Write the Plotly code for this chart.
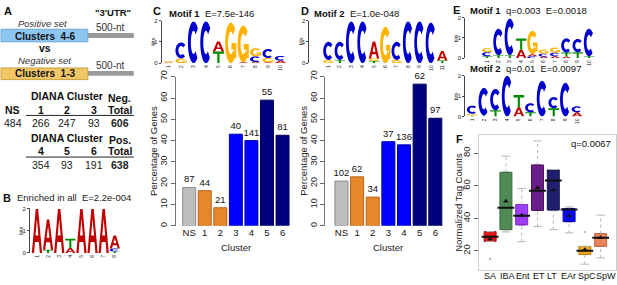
import numpy as np
import plotly.graph_objects as go

W, H = 617, 285
FONT = "Liberation Sans"

# ---- data -------------------------------------------------------------
clusters = ["NS", "1", "2", "3", "4", "5", "6"]
pct_motif1 = [18, 16.5, 8.5, 43, 40, 59, 42.5]
n_motif1 = [87, 44, 21, 40, 141, 55, 81]
pct_motif2 = [21, 23, 13.5, 39.5, 38, 66.5, 50.5]
n_motif2 = [102, 62, 34, 37, 136, 62, 97]
bar_colors = ["#BEBEBE", "#E8862A", "#E8862A", "#0000FF", "#0000FF", "#00007F", "#00007F"]
bar_edges = ["#8C8C8C", "#B8651C", "#B8651C", "#0000B0", "#0000B0", "#000050", "#000050"]

neg_cols = ["NS", "1", "2", "3", "Total"]
neg_vals = ["484", "266", "247", "93", "606"]
pos_cols = ["4", "5", "6", "Total"]
pos_vals = ["354", "93", "191", "638"]

# sequence logos: per position, letters stacked bottom -> top with heights in bits
logo_b = [[("A", 1.97)], [("T", 0.14), ("A", 1.36)], [("A", 1.97)],
          [("A", 0.22), ("T", 0.42)], [("A", 1.97)], [("A", 1.97)], [("A", 1.97)],
          [("T", 0.07), ("C", 0.13), ("A", 0.58)]]
logo_c = [[("A", 0.03), ("G", 0.06)], [("G", 0.22), ("C", 0.75)], [("C", 1.95)],
          [("C", 1.95)], [("T", 0.55), ("A", 0.47)], [("G", 1.9)],
          [("A", 0.04), ("G", 1.72)], [("A", 0.05), ("C", 0.27), ("G", 0.38)],
          [("A", 0.04), ("G", 0.2), ("C", 0.42)], [("A", 0.12), ("C", 0.22)]]
logo_d = [[("G", 0.15), ("C", 0.85)], [("T", 0.15), ("C", 0.85)], [("C", 1.95)],
          [("C", 1.95)], [("T", 0.1), ("G", 0.12), ("A", 0.8)], [("G", 1.7)],
          [("G", 0.15), ("C", 0.85)], [("C", 1.95)], [("C", 1.95)], [("C", 1.9)],
          [("T", 0.12), ("A", 0.45)]]
logo_e1 = [[("T", 0.1), ("C", 0.2), ("G", 0.2)], [("T", 0.15), ("C", 1.3)],
           [("T", 0.15), ("C", 1.8)], [("A", 0.42), ("T", 0.55)],
           [("C", 0.1), ("A", 0.1), ("G", 1.15)], [("A", 0.08), ("C", 0.15), ("G", 0.2)],
           [("A", 0.1), ("C", 0.18), ("G", 0.25)], [("A", 0.08), ("T", 0.2), ("C", 0.7)],
           [("T", 0.3), ("C", 0.65)], [("T", 0.1), ("C", 1.35)]]
logo_e2 = [[("T", 0.05), ("G", 0.08), ("C", 0.4)], [("T", 0.05), ("C", 1.35)],
           [("T", 0.3), ("C", 1.05)], [("C", 2.0)], [("A", 0.45), ("T", 0.6)],
           [("T", 0.2), ("C", 0.45)], [("C", 1.75)], [("T", 0.4), ("C", 0.55)],
           [("C", 1.65)], [("A", 0.2), ("C", 0.3)]]

groups = ["SA", "IBA", "Ent", "ET", "LT", "EAr", "SpC", "SpW"]
box_q1 = [25.9, 33.1, 36.0, 44.9, 45.1, 38.0, 17.8, 22.8]
box_med = [28.7, 46.5, 41.6, 57.0, 63.3, 45.5, 20.2, 28.1]
box_q3 = [31.9, 68.3, 48.5, 72.8, 69.7, 46.1, 22.8, 30.7]
box_lo = [25.9, 31.7, 25.7, 35.0, 33.1, 31.1, 11.9, 15.8]
box_hi = [31.9, 78.2, 58.4, 87.5, 70.0, 47.1, 22.8, 42.0]
box_mean = [27.3, 50.5, 42.0, 58.8, 57.4, 41.6, 20.8, 28.1]
out_x = [0, 6]  # SA, SpC
out_y = [15.3, 31.7]
box_colors = ["#E0161B", "#4F8A55", "#9D3DF5", "#6A1E8A", "#1F1F6E", "#0A0AEE", "#EAA620", "#E8845A"]
box_edges = ["#B01015", "#3A6B40", "#7B2CC8", "#4E1566", "#141450", "#0606B0", "#B8821A", "#B86848"]

LETTER_COLORS = {"A": "#C00000", "C": "#0000CC", "G": "#FFB300", "T": "#008A00"}


# ---- helpers ----------------------------------------------------------
def X(px):
    return px / W


def Y(py):
    return 1 - py / H


def ring(a0, a1, step=10):
    angs = np.radians(np.arange(a0, a1 + 0.1, step))
    outer = [(0.5 + 0.5 * np.cos(a), 0.5 + 0.5 * np.sin(a)) for a in angs]
    inner = [(0.5 + 0.24 * np.cos(a), 0.5 + 0.28 * np.sin(a)) for a in angs[::-1]]
    return outer + inner


GLYPHS = {
    "A": [[(0, 0), (0.22, 0), (0.31, 0.25), (0.69, 0.25), (0.78, 0), (1, 0), (0.62, 1), (0.38, 1)],
          [(0.36, 0.4), (0.5, 0.78), (0.64, 0.4)]],
    "T": [[(0.4, 0), (0.6, 0), (0.6, 0.8), (1, 0.8), (1, 1), (0, 1), (0, 0.8), (0.4, 0.8)]],
    "C": [ring(42, 318)],
    "G": [ring(42, 330),
          [(0.55, 0.34), (0.8, 0.34), (0.8, 0.12), (0.98, 0.12), (0.98, 0.5), (0.55, 0.5)]],
}


def glyph_path(letter, xc, y0, h, w=0.92):
    parts = []
    for poly in GLYPHS[letter]:
        pts = [f"{xc + (u - 0.5) * w:.4f},{y0 + v * h:.4f}" for u, v in poly]
        parts.append("M" + " L".join(pts) + " Z")
    return " ".join(parts)


def axname(ax, n):
    return ax if n == 1 else f"{ax}{n}"


layout_axes = {}
shapes = []
annotations = []


def ann(text, x, y, size=10, anchor="center", angle=0, color="#111111"):
    annotations.append(dict(text=text, x=X(x), y=Y(y), xref="paper", yref="paper",
                            showarrow=False, xanchor=anchor, yanchor="middle", textangle=angle,
                            font=dict(size=size, color=color, family=FONT)))


def add_logo(n, logo, left_px, first_px, last_px, y0_px, y2_px):
    npos = len(logo)
    step = (last_px - first_px) / (npos - 1)
    right_px = last_px + step / 2
    layout_axes[axname("xaxis", n)] = dict(
        domain=[X(left_px), X(right_px)], range=[1 - (first_px - left_px) / step, npos + 0.5],
        anchor=axname("y", n), tickvals=list(range(1, npos + 1)),
        ticktext=[str(i) for i in range(1, npos + 1)], tickangle=-90,
        tickfont=dict(size=5, color="#222"), showgrid=False, zeroline=False, showline=False, ticks="")
    layout_axes[axname("yaxis", n)] = dict(
        domain=[Y(y0_px), Y(y2_px)], range=[0, 2], tickvals=[0, 1, 2], ticks="outside", ticklen=2,
        tickfont=dict(size=6, color="#222"), showline=True, linecolor="#444", linewidth=1,
        showgrid=False, zeroline=False, anchor=axname("x", n))
    ann("bits", left_px - 9, (y0_px + y2_px) / 2, size=5, angle=-90)
    for i, stack in enumerate(logo, start=1):
        base = 0.0
        for letter, h in stack:
            shapes.append(dict(type="path", path=glyph_path(letter, i, base, h),
                               xref=axname("x", n), yref=axname("y", n),
                               fillcolor=LETTER_COLORS[letter], line=dict(width=0),
                               fillrule="nonzero", layer="above"))
            base += h


def add_bars(fig, n, vals, labels, axis_px, first_px, last_px, y0_px, y70_px):
    step = (last_px - first_px) / 6
    right_px = last_px + step * 0.6
    fig.add_trace(go.Bar(
        x=list(range(7)), y=vals, text=[str(v) for v in labels], textposition="outside",
        textfont=dict(size=9.5, color="#111", family=FONT), constraintext="none", cliponaxis=False,
        marker=dict(color=bar_colors, line=dict(color=bar_edges, width=1)),
        xaxis=axname("x", n), yaxis=axname("y", n)))
    layout_axes[axname("xaxis", n)] = dict(
        domain=[X(axis_px), X(right_px)], range=[-(first_px - axis_px) / step, 6 + 0.6],
        anchor=axname("y", n), tickvals=list(range(7)), ticktext=clusters,
        tickfont=dict(size=9.5, color="#111"), showgrid=False, zeroline=False, showline=False, ticks="")
    layout_axes[axname("yaxis", n)] = dict(
        domain=[Y(y0_px), Y(y70_px)], range=[0, 70], tickvals=list(range(0, 71, 10)),
        tickangle=-90, ticks="outside", ticklen=4, tickcolor="#666",
        tickfont=dict(size=9, color="#222"), showline=True, linecolor="#777", linewidth=1,
        showgrid=False, zeroline=False, anchor=axname("x", n))
    ann("Percentage of Genes", axis_px - 22, (y0_px + y70_px) / 2, size=9.5, angle=-90, color="#222")
    ann("Cluster", (first_px + last_px) / 2, y0_px + 22, size=9.5, color="#222")


def build_plot():
    fig = go.Figure()

    # ---- panel A ----
    ann("<b>A</b>", 2, 5, size=11, anchor="left")
    ann("<b>\"3'UTR\"</b>", 113, 7, size=9.5)
    ann("<i>Positive set</i>", 16, 18, size=9.5, anchor="left", color="#333")
    shapes.append(dict(type="rect", xref="paper", yref="paper", x0=X(1), x1=X(88), y0=Y(37), y1=Y(24),
                       fillcolor="#8EC6F2", line=dict(color="#6FA8D8", width=1)))
    shapes.append(dict(type="rect", xref="paper", yref="paper", x0=X(88), x1=X(134), y0=Y(33), y1=Y(28),
                       fillcolor="#9A9A9A", line=dict(width=0)))
    ann("<b>Clusters  4-6</b>", 45, 31, size=10)
    ann("500-nt", 111, 22, size=10, color="#333")
    ann("<b>vs</b>", 45, 43, size=10.5)
    ann("<i>Negative set</i>", 16, 56, size=9.5, anchor="left", color="#333")
    shapes.append(dict(type="rect", xref="paper", yref="paper", x0=X(1), x1=X(88), y0=Y(76), y1=Y(64),
                       fillcolor="#F1C766", line=dict(color="#C9A040", width=1)))
    shapes.append(dict(type="rect", xref="paper", yref="paper", x0=X(88), x1=X(134), y0=Y(72), y1=Y(67),
                       fillcolor="#9A9A9A", line=dict(width=0)))
    ann("<b>Clusters  1-3</b>", 45, 70, size=10)
    ann("500-nt", 111, 61, size=10, color="#333")

    neg_x = [13, 41, 67, 94, 120]
    ann("<b>DIANA Cluster</b>", 67, 93, size=10.5)
    ann("<b>Neg.</b>", 120, 95, size=10.5)
    for xx, c in zip(neg_x, neg_cols):
        ann(f"<b>{c}</b>", xx, 107, size=10.5)
    shapes.append(dict(type="line", xref="paper", yref="paper", x0=X(26), x1=X(134), y0=Y(113), y1=Y(113),
                       line=dict(color="#222", width=1)))
    for xx, v in zip(neg_x, neg_vals):
        ann(f"<b>{v}</b>" if v == neg_vals[-1] else v, xx, 121, size=10.5, color="#222")
    pos_x = [41, 67, 94, 120]
    ann("<b>DIANA Cluster</b>", 67, 136, size=10.5)
    ann("<b>Pos.</b>", 120, 138, size=10.5)
    for xx, c in zip(pos_x, pos_cols):
        ann(f"<b>{c}</b>", xx, 150, size=10.5)
    shapes.append(dict(type="line", xref="paper", yref="paper", x0=X(26), x1=X(134), y0=Y(156), y1=Y(156),
                       line=dict(color="#222", width=1)))
    for xx, v in zip(pos_x, pos_vals):
        ann(f"<b>{v}</b>" if v == pos_vals[-1] else v, xx, 164, size=10.5, color="#222")

    # ---- panel B ----
    ann("<b>B</b>", 1, 198, size=11, anchor="left")
    ann("Enriched in all  E=2.2e-004", 15, 198, size=9.5, anchor="left", color="#222")
    add_logo(1, logo_b, 30, 37, 115, 255, 209)

    # ---- panel C ----
    ann("<b>C</b>", 151, 5, size=11, anchor="left")
    ann("<b>Motif 1</b>  E=7.5e-146", 167, 8, size=9.5, anchor="left")
    add_logo(2, logo_c, 162, 169, 281, 59, 15)
    add_bars(fig, 3, pct_motif1, n_motif1, 176, 189.5, 283, 227, 73)

    # ---- panel D ----
    ann("<b>D</b>", 299, 5, size=11, anchor="left")
    ann("<b>Motif 2</b>  E=1.0e-048", 313, 8, size=9.5, anchor="left")
    add_logo(4, logo_d, 310, 329, 443, 59, 15)
    add_bars(fig, 5, pct_motif2, n_motif2, 326, 342, 436, 227, 73)

    # ---- panel E ----
    ann("<b>E</b>", 452, 4, size=11, anchor="left")
    ann("<b>Motif 1</b>  q=0.003  E=0.0018", 469, 5, size=9.5, anchor="left")
    add_logo(6, logo_e1, 466, 488, 590, 54, 12)
    ann("<b>Motif 2</b>  q=0.01  E=0.0097", 469, 65, size=9.5, anchor="left")
    add_logo(7, logo_e2, 466, 473, 578, 114, 72)

    # ---- panel F ----
    ann("<b>F</b>", 455, 137, size=11, anchor="left")
    pos = list(range(len(groups)))
    for p, c, e, a, m, b in zip(pos, box_colors, box_edges, box_q1, box_med, box_q3):
        fig.add_trace(go.Box(x=[p], q1=[a], median=[m], q3=[b], lowerfence=[a], upperfence=[b],
                             fillcolor=c, line=dict(color=e, width=1), width=0.76,
                             boxpoints=False, xaxis="x8", yaxis="y8"))
    wx, wy = [], []
    for p, a, b, lo, hi in zip(pos, box_q1, box_q3, box_lo, box_hi):
        wx += [p, p, None, p, p, None]
        wy += [b, hi, None, lo, a, None]
    fig.add_trace(go.Scatter(x=wx, y=wy, mode="lines", xaxis="x8", yaxis="y8",
                             line=dict(color="#B5B5B5", width=1, dash="dot")))
    fig.add_trace(go.Scatter(x=pos + pos, y=box_lo + box_hi, mode="markers", xaxis="x8", yaxis="y8",
                             marker=dict(symbol="line-ew", size=6, line=dict(color="#B5B5B5", width=1))))
    fig.add_trace(go.Scatter(x=pos, y=box_med, mode="markers", xaxis="x8", yaxis="y8",
                             marker=dict(symbol="line-ew", size=12, line=dict(color="#111", width=2))))
    fig.add_trace(go.Scatter(x=pos, y=box_mean, mode="markers", xaxis="x8", yaxis="y8",
                             marker=dict(symbol="triangle-up", size=5, color="#111")))
    fig.add_trace(go.Scatter(x=out_x, y=out_y, mode="markers", xaxis="x8", yaxis="y8",
                             marker=dict(symbol="circle", size=2.5, color="#BBBBBB")))
    layout_axes["xaxis8"] = dict(domain=[X(480), X(616.5)], range=[-0.69, 7.94], anchor="y8",
                                 showticklabels=False, showline=True, mirror=True,
                                 linecolor="#CFCFCF", linewidth=1, showgrid=False, zeroline=False, ticks="")
    layout_axes["yaxis8"] = dict(domain=[Y(273), Y(133)], range=[8.1, 91.3], anchor="x8",
                                 tickvals=[20, 40, 60, 80], tickangle=-90, ticks="outside", ticklen=4,
                                 tickcolor="#666", tickfont=dict(size=9.5, color="#222"), showline=True,
                                 mirror=True, linecolor="#CFCFCF", linewidth=1, showgrid=False, zeroline=False)
    label_px = [491, 508, 524, 540, 553, 569, 588, 607]
    for lx, g in zip(label_px, groups):
        ann(g, lx, 279, size=9, color="#111")
    ann("Normalized Tag Counts", 459, 203, size=9.5, angle=-90, color="#222")
    ann("q=0.0067", 614, 142, size=9.5, anchor="right", color="#111")

    fig.update_layout(
        width=W, height=H, margin=dict(l=0, r=0, t=0, b=0),
        paper_bgcolor="white", plot_bgcolor="white", showlegend=False,
        bargap=0.167, font=dict(family=FONT, color="#111"),
        shapes=shapes, annotations=annotations, **layout_axes)
    return fig


fig = build_plot()
fig.write_html("out.html", config={"displayModeBar": False},
               post_script="document.body.style.margin='0';")
